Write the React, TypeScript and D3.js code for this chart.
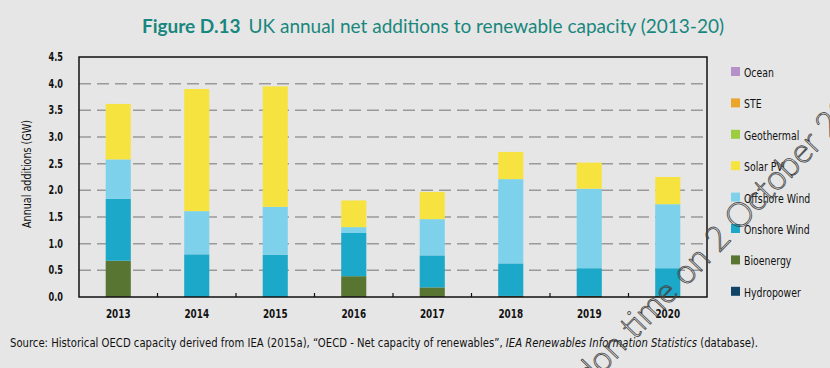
import React, { useRef, useEffect } from 'react';
import * as d3 from 'd3';

// values (GW)
const years = ['2013', '2014', '2015', '2016', '2017', '2018', '2019', '2020'];
const hydropower = [0, 0, 0, 0, 0, 0, 0, 0];
const bioenergy = [0.68, 0, 0, 0.39, 0.18, 0.02, 0.02, 0.02];
const onshoreWind = [1.16, 0.8, 0.79, 0.81, 0.6, 0.61, 0.52, 0.52];
const offshoreWind = [0.74, 0.81, 0.9, 0.11, 0.68, 1.58, 1.49, 1.2];
const solarPV = [1.04, 2.29, 2.26, 0.5, 0.51, 0.51, 0.49, 0.51];
const geothermal = [0, 0, 0, 0, 0, 0, 0, 0];
const ste = [0, 0, 0, 0, 0, 0, 0, 0];
const ocean = [0, 0, 0, 0, 0, 0, 0, 0];
const yTicks = [0, 0.5, 1, 1.5, 2, 2.5, 3, 3.5, 4, 4.5];

const seriesNames = ['Hydropower', 'Bioenergy', 'Onshore Wind', 'Offshore Wind', 'Solar PV', 'Geothermal', 'STE', 'Ocean'];
const seriesValues = [hydropower, bioenergy, onshoreWind, offshoreWind, solarPV, geothermal, ste, ocean];
const seriesColors = ['#0f4466', '#587531', '#1ca8c8', '#7dd1ea', '#f7e33f', '#9dcc3f', '#eca52b', '#b690c9'];

// squeeze text horizontally, the original uses a condensed face
const condense = (sel, k) => {
  sel.each(function () {
    const w = this.getComputedTextLength();
    d3.select(this).attr('textLength', w * k).attr('lengthAdjust', 'spacingAndGlyphs');
  });
};

const App = () => {
  const ref = useRef(null);

  useEffect(() => {
    const svg = d3.select(ref.current);
    svg.selectAll('*').remove();

    const W = 830, H = 368;
    const margin = { top: 57, right: 123, bottom: 71, left: 79 };
    const width = W - margin.left - margin.right;
    const height = H - margin.top - margin.bottom;
    const font = '"DejaVu Sans", sans-serif';

    svg.append('rect').attr('width', W).attr('height', H).attr('fill', '#e6e6e6');

    // title
    const title = svg.append('text')
      .attr('x', 433).attr('y', 33)
      .attr('text-anchor', 'middle')
      .attr('fill', '#18877d')
      .style('font-family', 'Lato, "Open Sans", sans-serif')
      .style('font-size', '19px');
    title.append('tspan').attr('font-weight', 'bold').text('Figure D.13');
    title.append('tspan').attr('dx', 8).text('UK annual net additions to renewable capacity (2013-20)');

    const x = d3.scaleBand().domain(years).range([0, width]).paddingInner(0.68).paddingOuter(0.34);
    const y = d3.scaleLinear().domain([0, 4.5]).range([height, 0]);

    const g = svg.append('g').attr('transform', `translate(${margin.left},${margin.top})`);

    // dashed grid
    g.selectAll('.grid')
      .data(yTicks.filter(t => t > 0 && t < 4.5))
      .enter().append('line')
      .attr('x1', 0).attr('x2', width)
      .attr('y1', d => y(d)).attr('y2', d => y(d))
      .attr('stroke', '#999')
      .attr('stroke-width', 1.5)
      .attr('stroke-dasharray', '12,6');

    // stacked bars
    const table = years.map((yr, i) => {
      const row: any = { year: yr };
      seriesNames.forEach((s, j) => { row[s] = seriesValues[j][i]; });
      return row;
    });
    const stack = d3.stack().keys(seriesNames)(table);

    stack.forEach((layer, j) => {
      g.append('g')
        .attr('fill', seriesColors[j])
        .selectAll('rect')
        .data(layer.filter(d => d[1] - d[0] > 0))
        .enter().append('rect')
        .attr('x', d => x(d.data.year))
        .attr('width', x.bandwidth())
        .attr('y', d => y(d[1]))
        .attr('height', d => y(d[0]) - y(d[1]));
    });

    // frame
    g.append('rect')
      .attr('width', width).attr('height', height)
      .attr('fill', 'none').attr('stroke', '#111').attr('stroke-width', 1.5);

    // category boundary ticks
    const step = x.step();
    g.selectAll('.xt')
      .data(years.slice(1))
      .enter().append('line')
      .attr('x1', (d, i) => step * (i + 1)).attr('x2', (d, i) => step * (i + 1))
      .attr('y1', height).attr('y2', height - 4)
      .attr('stroke', '#111').attr('stroke-width', 1.2);

    // x labels
    const xl = g.selectAll('.xl')
      .data(years)
      .enter().append('text')
      .attr('x', d => x(d) + x.bandwidth() / 2)
      .attr('y', height + 21)
      .attr('text-anchor', 'middle')
      .style('font-family', font)
      .style('font-weight', 'bold')
      .style('font-size', '13px')
      .attr('fill', '#111')
      .text(d => d);
    condense(xl, 0.68);

    // y labels
    const yl = g.selectAll('.yl')
      .data(yTicks)
      .enter().append('text')
      .attr('x', -16)
      .attr('y', d => y(d) + 4)
      .attr('text-anchor', 'end')
      .style('font-family', font)
      .style('font-weight', 'bold')
      .style('font-size', '12px')
      .attr('fill', '#111')
      .text(d => d.toFixed(1));
    condense(yl, 0.68);

    svg.append('text')
      .attr('transform', `translate(31,${margin.top + height / 2 - 3}) rotate(-90)`)
      .attr('text-anchor', 'middle')
      .attr('textLength', 108).attr('lengthAdjust', 'spacingAndGlyphs')
      .style('font-family', font)
      .style('font-size', '12px')
      .attr('fill', '#111')
      .text('Annual additions (GW)');

    // legend, top to bottom
    const legendOrder = seriesNames.map((s, j) => j).reverse();
    const lg = svg.append('g').attr('transform', 'translate(731,72)');
    legendOrder.forEach((j, k) => {
      const row = lg.append('g').attr('transform', `translate(0,${k * 31.4})`);
      row.append('rect').attr('x', 0).attr('y', -5).attr('width', 9).attr('height', 9).attr('fill', seriesColors[j]);
      const t = row.append('text')
        .attr('x', 13).attr('y', 5)
        .style('font-family', font)
        .style('font-size', '13px')
        .attr('fill', '#111')
        .text(seriesNames[j]);
      condense(t, 0.72);
    });

    // source note
    const src = svg.append('text')
      .attr('x', 10).attr('y', 347)
      .attr('textLength', 748).attr('lengthAdjust', 'spacingAndGlyphs')
      .style('font-family', font)
      .style('font-size', '13px')
      .attr('fill', '#111');
    src.append('tspan').text('Source: Historical OECD capacity derived from IEA (2015a), \u201cOECD - Net capacity of renewables\u201d, ');
    src.append('tspan').style('font-style', 'italic').text('IEA Renewables Information Statistics');
    src.append('tspan').text(' (database).');

    // watermark
    svg.append('text')
      .attr('transform', 'translate(552,426) rotate(-46)')
      .style('font-family', 'Lato, "Open Sans", sans-serif')
      .style('font-size', '34px')
      .style('font-weight', 300)
      .attr('fill', 'none')
      .attr('stroke', '#444')
      .attr('stroke-width', 0.8)
      .text('London time on 2 October 2015');
  }, []);

  return (
    <div style={{ position: 'fixed', left: 0, top: 0 }}>
      <svg ref={ref} width={830} height={368} style={{ display: 'block' }}></svg>
    </div>
  );
};

export default App;
